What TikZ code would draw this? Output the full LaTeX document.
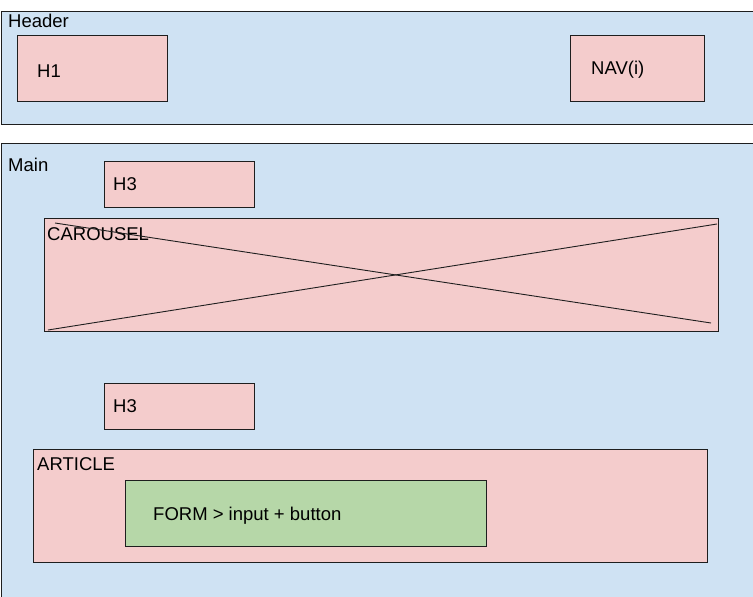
\documentclass[tikz,border=0pt]{standalone}
\usepackage{fontspec}
\setmainfont{Liberation Sans}
\definecolor{bluefill}{HTML}{CFE2F3}
\definecolor{pinkfill}{HTML}{F4CCCC}
\definecolor{greenfill}{HTML}{B6D7A8}
\definecolor{edge}{HTML}{1E1E1E}
\begin{document}
\begin{tikzpicture}[x=1pt,y=-1pt,
  box/.style={draw=edge,line width=0.9pt,anchor=north west,inner sep=0pt,outer sep=0pt},
  bluebox/.style={box,fill=bluefill},
  pinkbox/.style={box,fill=pinkfill},
  greenbox/.style={box,fill=greenfill},
  txt/.style={anchor=west,inner sep=0pt,font=\fontsize{18.5}{21}\selectfont,text=black}]
\useasboundingbox (0,0) rectangle (753,597);
% Header
\node[bluebox,minimum width=760pt,minimum height=113pt] (header) at (1,11) {};
\node[txt] (headerlbl) at (8,21) {Header};
\node[pinkbox,minimum width=150pt,minimum height=66pt] (h1) at (17,35) {};
\node[txt] (h1lbl) at (37,71) {H1};
\node[pinkbox,minimum width=134pt,minimum height=66pt] (nav) at (570,35) {};
\node[txt] (navlbl) at (591,70) {NAV(i)};
% Main
\node[bluebox,minimum width=760pt,minimum height=470pt] (main) at (1,143) {};
\node[txt] (mainlbl) at (8,165) {Main};
\node[pinkbox,minimum width=150pt,minimum height=46pt] (h3a) at (104,161) {};
\node[txt] (h3albl) at (113,184) {H3};
\node[pinkbox,minimum width=674pt,minimum height=113pt] (carousel) at (44,218) {};
\node[txt] (carlbl) at (47,234) {CAROUSEL};
\coordinate (c1) at (55,223);
\coordinate (c2) at (711,323);
\coordinate (c3) at (48,330);
\coordinate (c4) at (717,224);
\draw[edge,line width=0.9pt] (c1) -- (c2);
\draw[edge,line width=0.9pt] (c3) -- (c4);
\node[pinkbox,minimum width=150pt,minimum height=46pt] (h3b) at (104,383) {};
\node[txt] (h3blbl) at (113,406) {H3};
\node[pinkbox,minimum width=674pt,minimum height=113pt] (article) at (33,449) {};
\node[txt] (artlbl) at (37,464) {ARTICLE};
\node[greenbox,minimum width=361pt,minimum height=66pt] (form) at (125,480) {};
\node[txt] (formlbl) at (153,516) {FORM > input + button};
\end{tikzpicture}
\end{document}
